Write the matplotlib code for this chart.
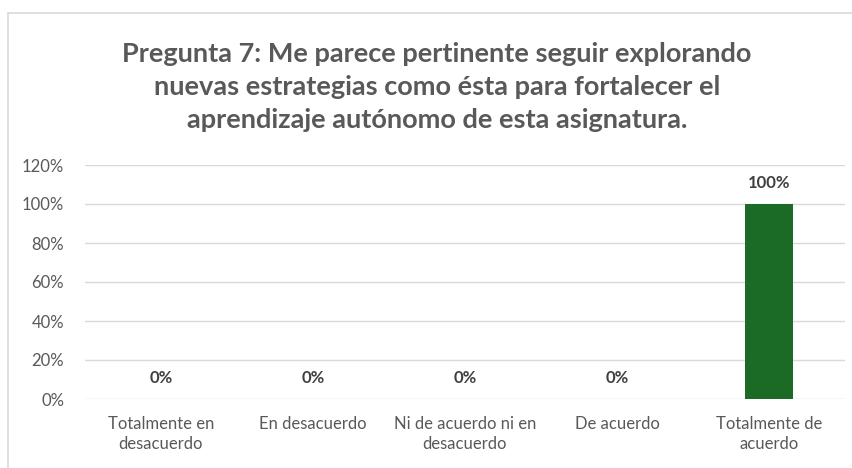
import matplotlib.pyplot as plt
from matplotlib.patches import Rectangle
from matplotlib.ticker import PercentFormatter

categories = ["Totalmente en\ndesacuerdo", "En desacuerdo", "Ni de acuerdo ni en\ndesacuerdo",
              "De acuerdo", "Totalmente de\nacuerdo"]
values = [0, 0, 0, 0, 100]
yticks = [0, 20, 40, 60, 80, 100, 120]
title = ("Pregunta 7: Me parece pertinente seguir explorando\n"
         "nuevas estrategias como ésta para fortalecer el\n"
         "aprendizaje autónomo de esta asignatura.")

plt.rcParams['font.family'] = ['Lato', 'DejaVu Sans']
gray = '#595959'

fig = plt.figure(figsize=(8.53, 4.68), dpi=100)
# chart frame as seen in the spreadsheet
fig.patches.append(Rectangle((8 / 853, -0.01), 1.0, 1 - 13 / 468 + 0.01, transform=fig.transFigure,
                             fill=False, edgecolor='#d9d9d9', linewidth=1.2))

ax = fig.add_axes([85 / 853, 1 - 399 / 468, 760 / 853, 234 / 468])
x = range(len(categories))
bars = ax.bar(x, values, width=0.31, color='#1b6a25', zorder=3)

for rect, v in zip(bars, values):
    ax.text(rect.get_x() + rect.get_width() / 2, v + 6.5, f"{v}%", ha='center', va='bottom',
            fontsize=12, fontweight='bold', color='#404040')

ax.set_xlim(-0.5, len(categories) - 0.5)
ax.set_ylim(0, 120)
ax.set_yticks(yticks)
ax.yaxis.set_major_formatter(PercentFormatter(decimals=0))
ax.set_xticks(list(x))
ax.set_xticklabels(categories, fontsize=12, color=gray, linespacing=1.35)
ax.tick_params(axis='y', labelsize=12, labelcolor=gray, length=0, pad=15)
ax.tick_params(axis='x', length=0, pad=12)
ax.grid(axis='y', color='#d9d9d9', linewidth=1, zorder=0)
for s in ax.spines.values():
    s.set_visible(False)

fig.text(437 / 853, 1 - 87 / 468, title, ha='center', va='center', fontsize=19.5,
         fontweight='bold', color=gray, linespacing=1.45)

fig.savefig('out.png', dpi=100)
